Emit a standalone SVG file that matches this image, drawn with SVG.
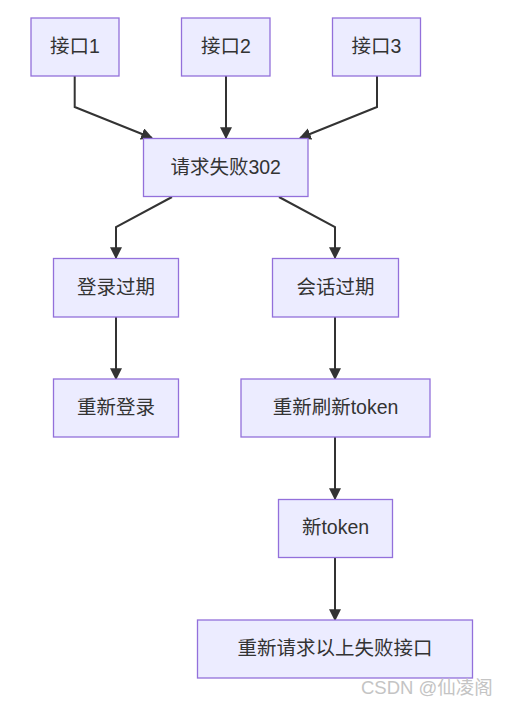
<svg xmlns="http://www.w3.org/2000/svg" width="507" height="705" viewBox="0 0 507 705">
<defs>
<style>
.node rect{fill:#ECECFF;stroke:#9370DB;stroke-width:1.3;}
.node text{font-family:"Liberation Sans","Noto Sans CJK SC",sans-serif;font-size:19.5px;fill:#333;text-anchor:middle;dominant-baseline:central;}
.edge{fill:none;stroke:#333;stroke-width:2;marker-end:url(#arrow);}
.wm{font-family:"Liberation Sans","Noto Sans CJK SC",sans-serif;font-size:18.5px;fill:#c4c4c4;}
</style>
<marker id="arrow" viewBox="0 0 10 10" refX="9" refY="5" markerUnits="userSpaceOnUse" markerWidth="12" markerHeight="12" orient="auto">
<path d="M0,0 L10,5 L0,10 z" fill="#333"/>
</marker>
</defs>
<rect width="507" height="705" fill="#fff"/>
<g id="connectors">
<path class="edge" d="M74.7,76 L74.7,107 L152,138"/>
<path class="edge" d="M226,76 L226,138"/>
<path class="edge" d="M377,76 L377,107 L300,138"/>
<path class="edge" d="M172,197 L116,227 L116,258"/>
<path class="edge" d="M279,197 L335,227 L335,258"/>
<path class="edge" d="M116,317 L116,379"/>
<path class="edge" d="M335,317 L335,379"/>
<path class="edge" d="M335,437 L335,499"/>
<path class="edge" d="M335,557 L335,620"/>
</g>
<g id="n1" class="node"><rect x="31" y="18" width="88" height="58"/><text x="75" y="46">接口1</text></g>
<g id="n2" class="node"><rect x="181.5" y="18" width="88.5" height="58"/><text x="226" y="46">接口2</text></g>
<g id="n3" class="node"><rect x="332.5" y="18" width="88" height="58"/><text x="376.5" y="46">接口3</text></g>
<g id="n4" class="node"><rect x="143.5" y="138.5" width="164.5" height="58"/><text x="225.7" y="166.5">请求失败302</text></g>
<g id="n5" class="node"><rect x="53.5" y="258.5" width="125" height="58.5"/><text x="116" y="286.7">登录过期</text></g>
<g id="n6" class="node"><rect x="272.5" y="258.5" width="126" height="58.5"/><text x="335.5" y="286.7">会话过期</text></g>
<g id="n7" class="node"><rect x="53.5" y="379" width="125" height="58"/><text x="116" y="407">重新登录</text></g>
<g id="n8" class="node"><rect x="241" y="379" width="189" height="58"/><text x="335.5" y="407">重新刷新token</text></g>
<g id="n9" class="node"><rect x="278.5" y="499.5" width="114" height="58"/><text x="335.5" y="527">新token</text></g>
<g id="n10" class="node"><rect x="197.5" y="620" width="275" height="58"/><text x="335" y="648">重新请求以上失败接口</text></g>
<text class="wm" x="361" y="694">CSDN @仙凌阁</text>
</svg>
